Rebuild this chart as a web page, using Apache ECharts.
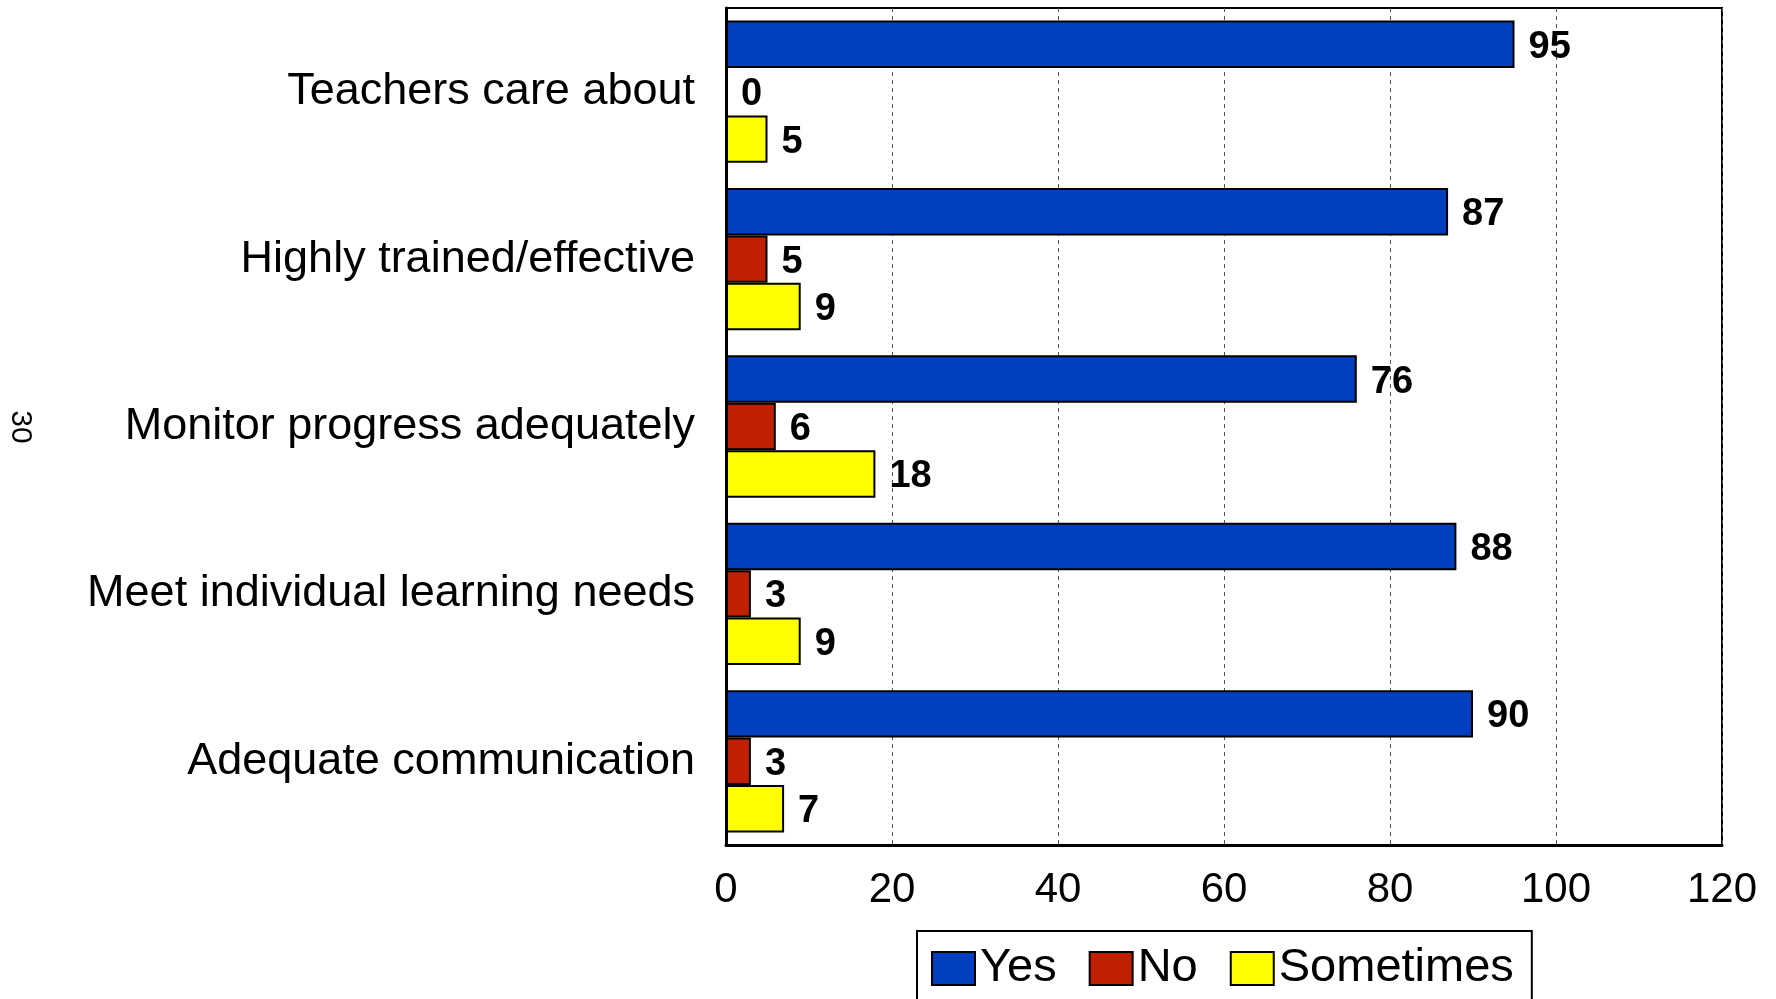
<!DOCTYPE html>
<html>
<head>
<meta charset="utf-8">
<title>Survey responses</title>
<script src="https://cdn.jsdelivr.net/npm/echarts@6/dist/echarts.min.js"></script>
<style>
  html, body { margin: 0; padding: 0; background: #ffffff; }
  #chart { width: 1776px; height: 999px; }
</style>
</head>
<body>
<div id="chart"></div>
<script>
// Survey statements, listed top to bottom
const categories = [
  'Teachers care about',
  'Highly trained/effective',
  'Monitor progress adequately',
  'Meet individual learning needs',
  'Adequate communication'
];

// Percent of responses per statement
const yesValues = [95, 87, 76, 88, 90];
const noValues = [0, 5, 6, 3, 3];
const sometimesValues = [5, 9, 18, 9, 7];

// Value axis range
const axisMin = 0;
const axisMax = 120;
const axisStep = 20;

const FONT = '"Liberation Sans", Arial, sans-serif';

const chart = echarts.init(document.getElementById('chart'), null, { renderer: 'canvas' });

const barLabel = {
  show: true,
  position: 'right',
  distance: 14,
  offset: [0, 3],
  color: '#000000',
  fontFamily: FONT,
  fontWeight: 'bold',
  fontSize: 38
};

function barSeries(name, values, color) {
  return {
    name: name,
    type: 'bar',
    data: values,
    barGap: '0%',
    barCategoryGap: '15%',
    itemStyle: { color: color, borderColor: '#000000', borderWidth: 2 },
    label: barLabel,
    emphasis: { disabled: true }
  };
}

chart.setOption({
  animation: false,
  backgroundColor: '#ffffff',
  textStyle: { fontFamily: FONT },
  grid: {
    left: 726,
    right: 54,
    top: 8,
    bottom: 154,
    show: true,
    borderColor: '#000000',
    borderWidth: 2,
    backgroundColor: 'transparent'
  },
  legend: {
    left: 917,
    top: 931,
    data: ['Yes', 'No', 'Sometimes'],
    icon: 'rect',
    itemWidth: 43,
    itemHeight: 33,
    itemGap: 32,
    padding: [14, 18, 40, 14],
    borderColor: '#000000',
    borderWidth: 2,
    textStyle: { color: '#000000', fontSize: 47, fontFamily: FONT },
    itemStyle: { borderColor: '#000000', borderWidth: 2 },
    selectedMode: false
  },
  xAxis: {
    type: 'value',
    min: axisMin,
    max: axisMax,
    interval: axisStep,
    axisLine: { show: true, lineStyle: { color: '#000000', width: 3 } },
    axisTick: { show: false },
    axisLabel: { color: '#000000', fontSize: 42, fontFamily: FONT, margin: 24 },
    splitLine: { show: true, lineStyle: { color: '#555555', width: 1, type: [4, 4] } }
  },
  yAxis: {
    type: 'category',
    data: categories,
    inverse: true,
    axisLine: { show: true, lineStyle: { color: '#000000', width: 3 } },
    axisTick: { show: false },
    axisLabel: { color: '#000000', fontSize: 45, fontFamily: FONT, margin: 31 },
    splitLine: { show: false }
  },
  graphic: [{
    type: 'text',
    x: 20,
    y: 427,
    rotation: -Math.PI / 2,
    style: {
      text: '30',
      fill: '#000000',
      font: '30px ' + FONT,
      align: 'center',
      verticalAlign: 'middle'
    }
  }],
  series: [
    barSeries('Yes', yesValues, '#0040C0'),
    barSeries('No', noValues, '#C02000'),
    barSeries('Sometimes', sometimesValues, '#FFFF00')
  ]
});
</script>
</body>
</html>
